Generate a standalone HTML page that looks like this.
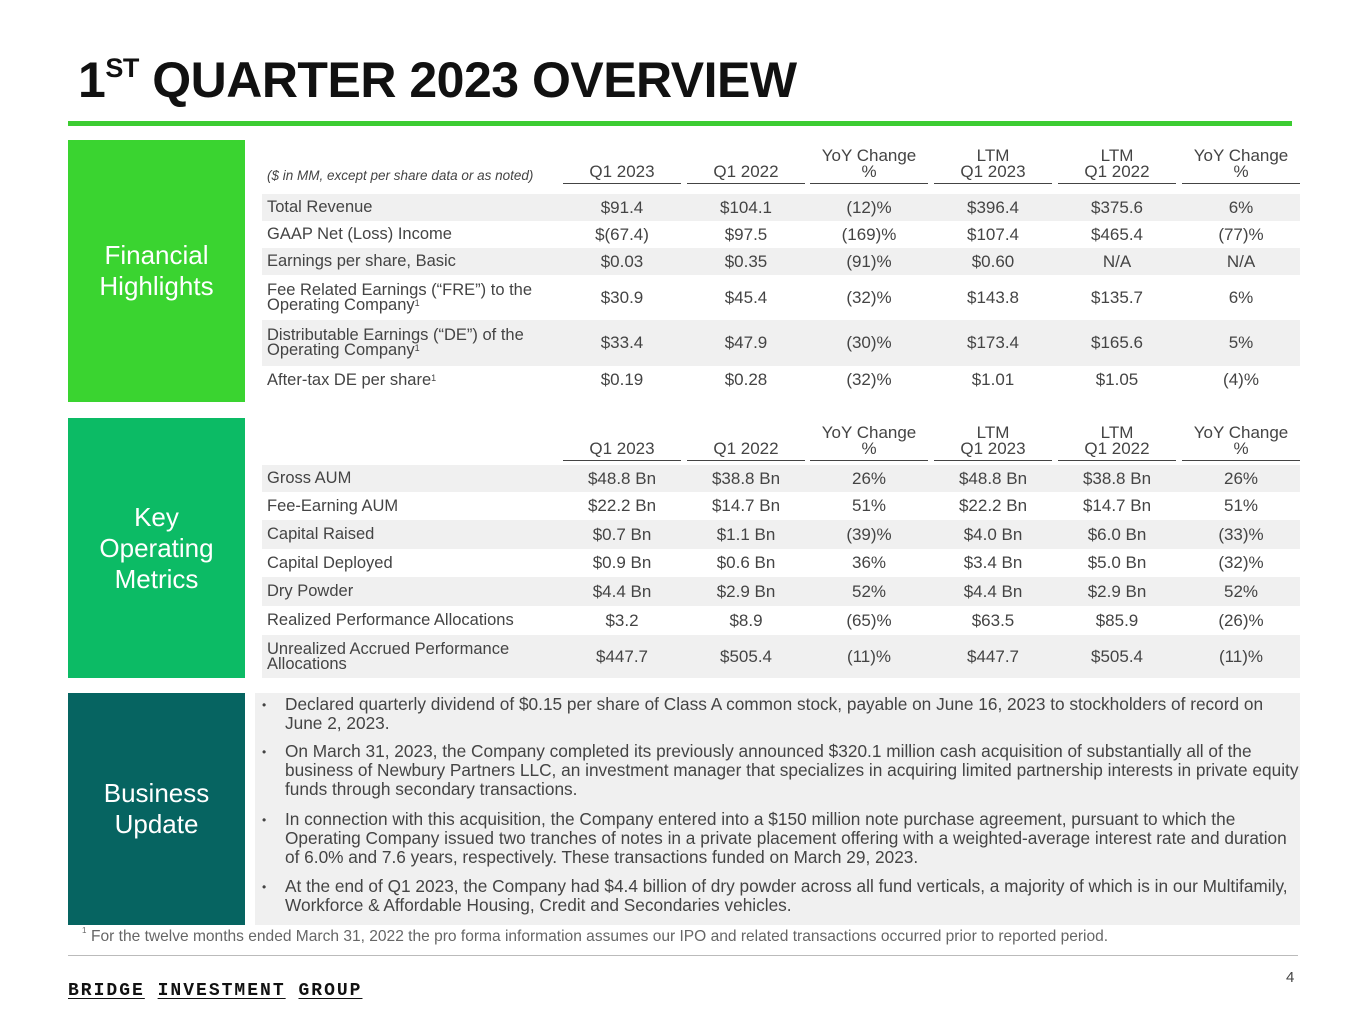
<!DOCTYPE html>
<html><head><meta charset="utf-8"><style>
*{margin:0;padding:0;box-sizing:border-box}
body{width:1365px;height:1024px;background:#fff;position:relative;overflow:hidden;font-family:"Liberation Sans",sans-serif;color:#3a3a3a}
.a{position:absolute}
.title{left:78px;top:51px;font-size:50px;font-weight:bold;color:#111;white-space:nowrap;letter-spacing:-0.5px}
.title sup{font-size:27px;vertical-align:top;position:relative;top:2px}
.side{left:68px;width:177px;color:#fff;font-size:26px;text-align:center;line-height:31px;display:flex;align-items:center;justify-content:center}
.row{left:262px;width:1038px;font-size:16.5px;color:#444}
.g{background:#f0f0f0}
.lab{position:absolute;left:5px;top:0;height:100%;display:flex;align-items:center;line-height:15px;white-space:nowrap}
.c{position:absolute;width:118px;text-align:center;top:0;height:100%;display:flex;align-items:center;justify-content:center;font-size:17px}
.h{position:absolute;width:118px;text-align:center;font-size:17px;line-height:16px;border-bottom:1.5px solid #444;padding-bottom:3px;color:#444}
.b{left:285px;font-size:17.25px;line-height:19px;color:#444;white-space:nowrap}
.dot{position:absolute;left:262px;font-size:12px;color:#444}
sup.s{font-size:9px;vertical-align:top;position:relative;top:-2px}
</style></head><body>
<div class="a title">1<sup>ST</sup> QUARTER 2023 OVERVIEW</div>
<div class="a" style="left:68px;top:121px;width:1224px;height:5px;background:#3ccc32"></div>

<div class="a side" style="top:140px;height:262px;background:#3ad430">Financial<br>Highlights</div>
<div class="a side" style="top:418px;height:260px;background:#0cbb65">Key<br>Operating<br>Metrics</div>
<div class="a side" style="top:693px;height:232px;background:#066461">Business<br>Update</div>

<div class="a" style="left:267px;top:168px;font-size:13.5px;font-style:italic;color:#444">($ in MM, except per share data or as noted)</div>
<div class="h" style="left:563px;top:164px">Q1 2023</div>
<div class="h" style="left:687px;top:164px">Q1 2022</div>
<div class="h" style="left:810px;top:148px">YoY Change<br>%</div>
<div class="h" style="left:934px;top:148px">LTM<br>Q1 2023</div>
<div class="h" style="left:1058px;top:148px">LTM<br>Q1 2022</div>
<div class="h" style="left:1182px;top:148px">YoY Change<br>%</div>

<div class="a row g" style="top:194px;height:27px"><div class="lab"><span>Total Revenue</span></div>
<div class="c" style="left:301px">$91.4</div><div class="c" style="left:425px">$104.1</div><div class="c" style="left:548px">(12)%</div><div class="c" style="left:672px">$396.4</div><div class="c" style="left:796px">$375.6</div><div class="c" style="left:920px">6%</div></div>
<div class="a row" style="top:221px;height:27px"><div class="lab"><span>GAAP Net (Loss) Income</span></div>
<div class="c" style="left:301px">$(67.4)</div><div class="c" style="left:425px">$97.5</div><div class="c" style="left:548px">(169)%</div><div class="c" style="left:672px">$107.4</div><div class="c" style="left:796px">$465.4</div><div class="c" style="left:920px">(77)%</div></div>
<div class="a row g" style="top:248px;height:27px"><div class="lab"><span>Earnings per share, Basic</span></div>
<div class="c" style="left:301px">$0.03</div><div class="c" style="left:425px">$0.35</div><div class="c" style="left:548px">(91)%</div><div class="c" style="left:672px">$0.60</div><div class="c" style="left:796px">N/A</div><div class="c" style="left:920px">N/A</div></div>
<div class="a row" style="top:275px;height:45px"><div class="lab"><span>Fee Related Earnings (“FRE”) to the<br>Operating Company<sup class="s">1</sup></span></div>
<div class="c" style="left:301px">$30.9</div><div class="c" style="left:425px">$45.4</div><div class="c" style="left:548px">(32)%</div><div class="c" style="left:672px">$143.8</div><div class="c" style="left:796px">$135.7</div><div class="c" style="left:920px">6%</div></div>
<div class="a row g" style="top:320px;height:46px"><div class="lab"><span>Distributable Earnings (“DE”) of the<br>Operating Company<sup class="s">1</sup></span></div>
<div class="c" style="left:301px">$33.4</div><div class="c" style="left:425px">$47.9</div><div class="c" style="left:548px">(30)%</div><div class="c" style="left:672px">$173.4</div><div class="c" style="left:796px">$165.6</div><div class="c" style="left:920px">5%</div></div>
<div class="a row" style="top:366px;height:28px"><div class="lab"><span>After-tax DE per share<sup class="s">1</sup></span></div>
<div class="c" style="left:301px">$0.19</div><div class="c" style="left:425px">$0.28</div><div class="c" style="left:548px">(32)%</div><div class="c" style="left:672px">$1.01</div><div class="c" style="left:796px">$1.05</div><div class="c" style="left:920px">(4)%</div></div>

<div class="h" style="left:563px;top:441px">Q1 2023</div>
<div class="h" style="left:687px;top:441px">Q1 2022</div>
<div class="h" style="left:810px;top:425px">YoY Change<br>%</div>
<div class="h" style="left:934px;top:425px">LTM<br>Q1 2023</div>
<div class="h" style="left:1058px;top:425px">LTM<br>Q1 2022</div>
<div class="h" style="left:1182px;top:425px">YoY Change<br>%</div>

<div class="a row g" style="top:465px;height:27px"><div class="lab"><span>Gross AUM</span></div>
<div class="c" style="left:301px">$48.8 Bn</div><div class="c" style="left:425px">$38.8 Bn</div><div class="c" style="left:548px">26%</div><div class="c" style="left:672px">$48.8 Bn</div><div class="c" style="left:796px">$38.8 Bn</div><div class="c" style="left:920px">26%</div></div>
<div class="a row" style="top:492px;height:28px"><div class="lab"><span>Fee-Earning AUM</span></div>
<div class="c" style="left:301px">$22.2 Bn</div><div class="c" style="left:425px">$14.7 Bn</div><div class="c" style="left:548px">51%</div><div class="c" style="left:672px">$22.2 Bn</div><div class="c" style="left:796px">$14.7 Bn</div><div class="c" style="left:920px">51%</div></div>
<div class="a row g" style="top:520px;height:29px"><div class="lab"><span>Capital Raised</span></div>
<div class="c" style="left:301px">$0.7 Bn</div><div class="c" style="left:425px">$1.1 Bn</div><div class="c" style="left:548px">(39)%</div><div class="c" style="left:672px">$4.0 Bn</div><div class="c" style="left:796px">$6.0 Bn</div><div class="c" style="left:920px">(33)%</div></div>
<div class="a row" style="top:549px;height:28px"><div class="lab"><span>Capital Deployed</span></div>
<div class="c" style="left:301px">$0.9 Bn</div><div class="c" style="left:425px">$0.6 Bn</div><div class="c" style="left:548px">36%</div><div class="c" style="left:672px">$3.4 Bn</div><div class="c" style="left:796px">$5.0 Bn</div><div class="c" style="left:920px">(32)%</div></div>
<div class="a row g" style="top:577px;height:29px"><div class="lab"><span>Dry Powder</span></div>
<div class="c" style="left:301px">$4.4 Bn</div><div class="c" style="left:425px">$2.9 Bn</div><div class="c" style="left:548px">52%</div><div class="c" style="left:672px">$4.4 Bn</div><div class="c" style="left:796px">$2.9 Bn</div><div class="c" style="left:920px">52%</div></div>
<div class="a row" style="top:606px;height:29px"><div class="lab"><span>Realized Performance Allocations</span></div>
<div class="c" style="left:301px">$3.2</div><div class="c" style="left:425px">$8.9</div><div class="c" style="left:548px">(65)%</div><div class="c" style="left:672px">$63.5</div><div class="c" style="left:796px">$85.9</div><div class="c" style="left:920px">(26)%</div></div>
<div class="a row g" style="top:635px;height:43px"><div class="lab"><span>Unrealized Accrued Performance<br>Allocations</span></div>
<div class="c" style="left:301px">$447.7</div><div class="c" style="left:425px">$505.4</div><div class="c" style="left:548px">(11)%</div><div class="c" style="left:672px">$447.7</div><div class="c" style="left:796px">$505.4</div><div class="c" style="left:920px">(11)%</div></div>

<div class="a" style="left:255px;top:693px;width:1045px;height:232px;background:#f0f0f0"></div>
<div class="dot" style="top:698px">•</div>
<div class="dot" style="top:745px">•</div>
<div class="dot" style="top:813px">•</div>
<div class="dot" style="top:880px">•</div>
<div class="a b" style="top:695px">Declared quarterly dividend of $0.15 per share of Class A common stock, payable on June 16, 2023 to stockholders of record on<br>June 2, 2023.</div>
<div class="a b" style="top:742px">On March 31, 2023, the Company completed its previously announced $320.1 million cash acquisition of substantially all of the<br>business of Newbury Partners LLC, an investment manager that specializes in acquiring limited partnership interests in private equity<br>funds through secondary transactions.</div>
<div class="a b" style="top:810px">In connection with this acquisition, the Company entered into a $150 million note purchase agreement, pursuant to which the<br>Operating Company issued two tranches of notes in a private placement offering with a weighted-average interest rate and duration<br>of 6.0% and 7.6 years, respectively. These transactions funded on March 29, 2023.</div>
<div class="a b" style="top:877px">At the end of Q1 2023, the Company had $4.4 billion of dry powder across all fund verticals, a majority of which is in our Multifamily,<br>Workforce &amp; Affordable Housing, Credit and Secondaries vehicles.</div>

<div class="a" style="left:82px;top:926px;font-size:8px;color:#666">1</div>
<div class="a" style="left:91px;top:928px;font-size:15.55px;color:#666;white-space:nowrap">For the twelve months ended March 31, 2022 the pro forma information assumes our IPO and related transactions occurred prior to reported period.</div>
<div class="a" style="left:68px;top:955px;width:1230px;height:1px;background:#bbb"></div>
<div class="a" style="left:68px;top:981px;font-family:'Liberation Mono',monospace;font-weight:bold;font-size:18px;letter-spacing:2px;color:#111;white-space:nowrap"><span style="text-decoration:underline;text-underline-offset:3px">BRIDGE</span> <span style="text-decoration:underline;text-underline-offset:3px">INVESTMENT</span> <span style="text-decoration:underline;text-underline-offset:3px">GROUP</span></div>
<div class="a" style="left:1286px;top:969px;font-size:15px;color:#444">4</div>
</body></html>
